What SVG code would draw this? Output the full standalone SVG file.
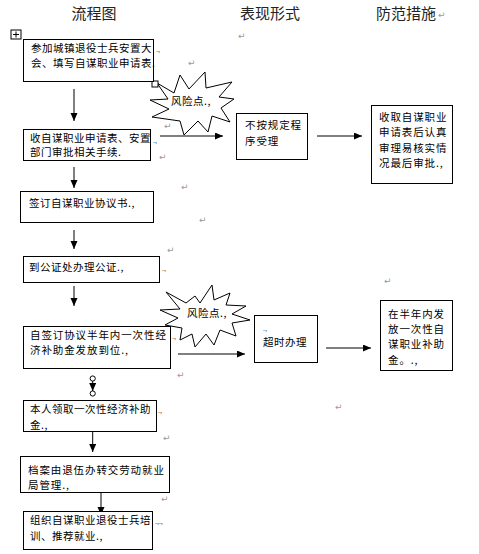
<svg xmlns="http://www.w3.org/2000/svg" width="479" height="554" viewBox="0 0 479 554">
<style>
text{font-family:"Noto Sans CJK SC","Liberation Sans",sans-serif;fill:#000}
.t{font-size:15px;fill:#222}
.b{font-size:10.5px;letter-spacing:0.5px}
.n{font-size:10.5px;letter-spacing:0.9px}
.m{font-size:9px;fill:#999;font-family:"DejaVu Sans",sans-serif}
.d{font-size:7px;fill:#555}
rect.box{fill:#fff;stroke:#000;stroke-width:1}
.ln{stroke:#000;stroke-width:1;fill:none}
.star{fill:#fff;stroke:#000;stroke-width:1}
</style>
<defs>
<marker id="ah" markerUnits="userSpaceOnUse" markerWidth="9" markerHeight="8" refX="8" refY="3.5" orient="auto">
<path d="M0,0 L8,3.5 L0,7 z" fill="#000"/>
</marker>
</defs>
<rect width="479" height="554" fill="#fff"/>
<g id="titles">
<text class="t" x="94" y="19" text-anchor="middle">流程图</text>
<text class="t" x="270" y="19" text-anchor="middle">表现形式</text>
<text class="t" x="406" y="19" text-anchor="middle">防范措施</text>
</g>
<g id="marks">
<text class="m" x="438" y="18">↵</text>
<text class="m" x="238" y="39">↵</text>
<text class="m" x="188" y="66">↵</text>
<text class="m" x="164" y="129">↵</text>
<text class="m" x="159" y="160">↵</text>
<text class="m" x="181" y="190">↵</text>
<text class="m" x="199" y="223">↵</text>
<text class="m" x="167" y="253">↵</text>
<text class="m" x="384" y="284">↵</text>
<text class="m" x="177" y="378">↵</text>
<text class="m" x="335" y="410">↵</text>
<text class="m" x="163" y="441">↵</text>
<text class="m" x="161" y="502">↵</text>
<text class="d" x="156" y="52">.,</text>
<text class="d" x="153" y="143">.,</text>
<text class="d" x="162" y="271">.,</text>
<text class="d" x="172" y="339">.,</text>
<text class="d" x="158" y="413">.,</text>
<text class="d" x="155" y="524">.,.,</text>
</g>
<g id="icon">
<rect x="11" y="30" width="10" height="9" fill="#fff" stroke="#000"/>
<path d="M16,31.5 V37.5 M13,34.5 H19" stroke="#000" stroke-width="1"/>
</g>
<g id="risk1">
<polygon class="star" points="157,83 174,93 180,75 189,89 205,72 206,88 232,82 219,97 234,99 221,108 230,122 212,116 208,132 198,121 184,135 180,121 152,117 169,109 150,100 168,99"/>
<text class="b" x="191" y="105" text-anchor="middle">风险点.,</text>
</g>
<g id="risk2">
<polygon class="star" points="166,292 186,303 195,296 200,303 212,285 214,300 230,293 226,305 246,306 232,314 250,320 232,323 236,336 220,330 214,345 206,334 195,347 192,334 180,340 182,328 165,325 178,318 160,310 180,309"/>
<text class="b" x="207" y="317" text-anchor="middle">风险点.,</text>
</g>
<g id="handle"><rect x="152" y="81" width="6" height="6" fill="#fff" stroke="#000"/></g>
<g id="connectors">
<line class="ln" x1="74" y1="89" x2="74" y2="121" marker-end="url(#ah)"/>
<line class="ln" x1="160" y1="136" x2="223" y2="136" marker-end="url(#ah)"/>
<line class="ln" x1="317" y1="136" x2="362" y2="136" marker-end="url(#ah)"/>
<line class="ln" x1="74" y1="167" x2="74" y2="188" marker-end="url(#ah)"/>
<line class="ln" x1="74" y1="230" x2="74" y2="249" marker-end="url(#ah)"/>
<line class="ln" x1="74" y1="286" x2="74" y2="306" marker-end="url(#ah)"/>
<line class="ln" x1="178" y1="354" x2="245" y2="354" marker-end="url(#ah)"/>
<line class="ln" x1="326" y1="348" x2="371" y2="348" marker-end="url(#ah)"/>
<circle cx="92.7" cy="378.5" r="2.6" fill="#fff" stroke="#000"/>
<line class="ln" x1="92.7" y1="381" x2="92.7" y2="391" marker-end="url(#ah)"/>
<circle cx="92.7" cy="393.5" r="2.6" fill="#fff" stroke="#000"/>
<line class="ln" x1="92.7" y1="432" x2="92.7" y2="452" marker-end="url(#ah)"/>
<line class="ln" x1="101" y1="492" x2="101" y2="515" marker-end="url(#ah)"/>
</g>
<g id="n1">
<rect class="box" x="23.5" y="39.5" width="130" height="42"/>
<text class="b" x="31" y="52">参加城镇退役士兵安置大</text>
<text class="b" x="31" y="67">会、填写自谋职业申请表.</text>
</g>
<g id="n2">
<rect class="box" x="23.5" y="129.5" width="127" height="31"/>
<text class="b" x="30" y="142">收自谋职业申请表、安置</text>
<text class="b" x="30" y="156">部门审批相关手续.</text>
</g>
<g id="n3">
<rect class="box" x="236.5" y="113.5" width="71" height="46"/>
<text class="n" x="245" y="129">不按规定程</text>
<text class="n" x="245" y="145">序受理</text>
</g>
<g id="n4">
<rect class="box" x="371.5" y="105.5" width="81" height="78"/>
<text class="n" x="379" y="121">收取自谋职业</text>
<text class="n" x="379" y="136">申请表后认真</text>
<text class="n" x="379" y="152">审理易核实情</text>
<text class="n" x="379" y="167">况最后审批.,</text>
</g>
<g id="n5">
<rect class="box" x="20.5" y="191.5" width="133" height="31"/>
<text class="b" x="29" y="207" letter-spacing="0">签订自谋职业协议书.,</text>
</g>
<g id="n6">
<rect class="box" x="23.5" y="256.5" width="136" height="26"/>
<text class="b" x="29" y="271">到公证处办理公证.,</text>
</g>
<g id="n7">
<rect class="box" x="23.5" y="326.5" width="147" height="42"/>
<text class="n" x="30" y="338.5">自签订协议半年内一次性经</text>
<text class="n" x="30" y="354">济补助金发放到位.,</text>
</g>
<g id="n8">
<rect class="box" x="254.5" y="315.5" width="63" height="47"/>
<text class="d" x="263" y="331">.,</text>
<text class="b" x="263" y="346" letter-spacing="0">超时办理</text>
</g>
<g id="n9">
<rect class="box" x="380.5" y="300.5" width="72" height="70"/>
<text class="n" x="388" y="317.5">在半年内发</text>
<text class="n" x="388" y="332.5">放一次性自</text>
<text class="n" x="388" y="347.5">谋职业补助</text>
<text class="n" x="388" y="364">金。.,</text>
</g>
<g id="n10">
<rect class="box" x="23.5" y="400.5" width="133" height="31"/>
<text class="b" x="30" y="412.5">本人领取一次性经济补助</text>
<text class="b" x="30" y="428.5">金.,</text>
</g>
<g id="n11">
<rect class="box" x="20.5" y="456.5" width="149" height="36"/>
<text class="n" x="28" y="473.5">档案由退伍办转交劳动就业</text>
<text class="n" x="28" y="488.5">局管理.,</text>
</g>
<g id="n12">
<rect class="box" x="23.5" y="511.5" width="129" height="38"/>
<text class="b" x="30" y="523.5">组织自谋职业退役士兵培</text>
<text class="b" x="30" y="540">训、推荐就业.,</text>
</g>
</svg>
